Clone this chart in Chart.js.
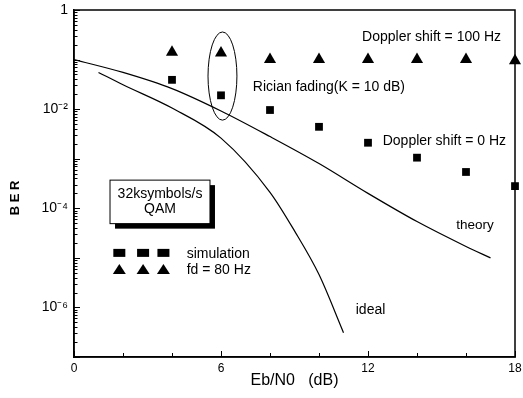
<!DOCTYPE html>
<html>
<head>
<meta charset="utf-8">
<script src="https://cdn.jsdelivr.net/npm/chart.js@4"></script>
<style>
  html, body { margin: 0; padding: 0; background: #fff; }
  #wrap { width: 523px; height: 398px; }
</style>
</head>
<body>
<div id="wrap"><canvas id="ber"></canvas></div>
<script>
// simulation points (Eb/N0 in dB, BER)
let simX = [4, 6, 8, 10, 12, 14, 16, 18];
let doppler100 = [0.14, 0.135, 0.1, 0.1, 0.1, 0.1, 0.1, 0.095];
let doppler0 = [0.039, 0.019, 0.0096, 0.0044, 0.0021, 0.00105, 0.00054, 0.00028];

// theory curve
let theoryX = [0, 2, 4, 6, 8, 10, 12, 14, 16, 17];
let theoryY = [0.10, 0.055, 0.026, 0.0092, 0.0028, 8e-4, 2.0e-4, 5.4e-5, 1.7e-5, 1.0e-5];

// ideal curve
let idealX = [1, 2, 4, 6, 8, 9, 10, 11];
let idealY = [0.055, 0.031, 0.0105, 0.0026, 2.1e-4, 3.5e-5, 4.6e-6, 3.1e-7];

// tick labels
let xTickLabels = [0, 6, 12, 18];
let yLabelValues = [1, 1e-2, 1e-4, 1e-6];
let yLabelTexts = ['1', '10\u207B\u00B2', '10\u207B\u2074', '10\u207B\u2076'];

function points(xs, ys) {
    return xs.map((x, i) => ({ x: x, y: ys[i] }));
}

Chart.defaults.font.family = '"Liberation Sans", Arial, sans-serif';
Chart.defaults.color = '#000';

const annotations = {
    id: 'annotations',
    afterDatasetsDraw(chart) {
        const ctx = chart.ctx;
        const x = chart.scales.x;
        const y = chart.scales.y;
        const area = chart.chartArea;
        const px = v => x.getPixelForValue(v);
        const py = v => y.getPixelForValue(v);
        ctx.save();

        // frame on top and right
        ctx.strokeStyle = '#000';
        ctx.lineWidth = 1.5;
        ctx.strokeRect(area.left, area.top, area.right - area.left, area.bottom - area.top);

        // inward tick marks
        ctx.lineWidth = 1;
        ctx.beginPath();
        y.ticks.forEach(t => {
            const yy = Math.round(py(t.value)) + 0.5;
            const major = Math.abs(Math.log10(t.value) - Math.round(Math.log10(t.value))) < 1e-6;
            ctx.moveTo(area.left, yy);
            ctx.lineTo(area.left + (major ? 6 : 3.5), yy);
        });
        x.ticks.forEach(t => {
            const xx = Math.round(px(t.value)) + 0.5;
            ctx.moveTo(xx, area.bottom);
            ctx.lineTo(xx, area.bottom - (xTickLabels.includes(t.value) ? 6 : 4));
        });
        ctx.stroke();

        // labels
        ctx.fillStyle = '#000';
        ctx.textBaseline = 'middle';
        ctx.textAlign = 'left';
        ctx.font = '14px "Liberation Sans", Arial, sans-serif';
        ctx.fillText('Doppler shift = 100 Hz', px(11.76), py(0.28));
        ctx.fillText('Rician fading(K = 10 dB)', px(7.3), py(0.028));
        ctx.fillText('Doppler shift = 0 Hz', px(12.6), py(0.0023));
        ctx.fillText('ideal', px(11.5), py(8.9e-7));
        ctx.font = '13.5px "Liberation Sans", Arial, sans-serif';
        ctx.fillText('theory', px(15.6), py(4.6e-5));

        // ellipse round the 6 dB points
        const ex0 = px(5.47), ex1 = px(6.65), ey0 = py(0.36), ey1 = py(0.006);
        ctx.lineWidth = 1;
        ctx.beginPath();
        ctx.ellipse((ex0 + ex1) / 2, (ey0 + ey1) / 2, (ex1 - ex0) / 2, (ey1 - ey0) / 2, 0, 0, 2 * Math.PI);
        ctx.stroke();

        // boxed note with shadow
        ctx.font = '14px "Liberation Sans", Arial, sans-serif';
        const bx0 = px(1.47), bx1 = px(5.55), by0 = py(3.7e-4), by1 = py(4.9e-5);
        ctx.fillRect(bx0 + 5, by0 + 5, bx1 - bx0, by1 - by0);
        ctx.fillStyle = '#fff';
        ctx.fillRect(bx0, by0, bx1 - bx0, by1 - by0);
        ctx.strokeRect(bx0, by0, bx1 - bx0, by1 - by0);
        ctx.fillStyle = '#000';
        ctx.textAlign = 'center';
        ctx.fillText('32ksymbols/s', (bx0 + bx1) / 2, by0 + 14);
        ctx.fillText('QAM', (bx0 + bx1) / 2, by0 + 29);

        // legend
        const sy = py(1.26e-5), ty = py(5.7e-6);
        [1.85, 2.82, 3.65].forEach(v => {
            const cx = px(v);
            ctx.fillRect(cx - 6, sy - 4, 12, 8);
            ctx.beginPath();
            ctx.moveTo(cx, ty - 6);
            ctx.lineTo(cx + 6.5, ty + 4);
            ctx.lineTo(cx - 6.5, ty + 4);
            ctx.closePath();
            ctx.fill();
        });
        ctx.textAlign = 'left';
        ctx.fillText('simulation', px(4.6), sy + 1);
        ctx.fillText('fd = 80 Hz', px(4.6), ty);

        ctx.restore();
    }
};

new Chart(document.getElementById('ber'), {
    type: 'line',
    data: {
        datasets: [
            {
                label: 'theory',
                data: points(theoryX, theoryY),
                borderColor: '#000',
                borderWidth: 1.2,
                pointRadius: 0,
                cubicInterpolationMode: 'monotone'
            },
            {
                label: 'ideal',
                data: points(idealX, idealY),
                borderColor: '#000',
                borderWidth: 1.2,
                pointRadius: 0,
                cubicInterpolationMode: 'monotone'
            },
            {
                label: 'Doppler shift = 100 Hz',
                data: points(simX, doppler100),
                showLine: false,
                pointStyle: 'triangle',
                pointRadius: 7,
                backgroundColor: '#000',
                borderColor: '#000',
                borderWidth: 0,
                clip: false
            },
            {
                label: 'Doppler shift = 0 Hz',
                data: points(simX, doppler0),
                showLine: false,
                pointStyle: 'rect',
                pointRadius: 5.5,
                backgroundColor: '#000',
                borderColor: '#000',
                borderWidth: 0,
                clip: false
            }
        ]
    },
    options: {
        responsive: true,
        maintainAspectRatio: false,
        animation: false,
        devicePixelRatio: 1,
        layout: { padding: { top: 10, right: 8, bottom: 8, left: 0 } },
        plugins: {
            legend: { display: false },
            tooltip: { enabled: false }
        },
        scales: {
            x: {
                type: 'linear',
                min: 0,
                max: 18,
                afterBuildTicks(scale) {
                    let ticks = [];
                    for (let v = 0; v <= 18; v += 2) ticks.push({ value: v });
                    scale.ticks = ticks;
                },
                afterFit(scale) {
                    scale.height = 33;
                    scale.paddingLeft = 0;
                    scale.paddingRight = 0;
                },
                ticks: {
                    autoSkip: false,
                    maxRotation: 0,
                    padding: 4,
                    font: { size: 12 },
                    callback: v => xTickLabels.includes(v) ? String(v) : ''
                },
                grid: { display: false, drawTicks: false },
                border: { color: '#000', width: 1.5 },
                title: {
                    display: true,
                    text: 'Eb/N0   (dB)',
                    font: { size: 16 },
                    padding: { top: 0, bottom: 0 }
                }
            },
            y: {
                type: 'logarithmic',
                min: 1e-7,
                max: 1,
                afterBuildTicks(scale) {
                    let ticks = [];
                    for (let e = -7; e < 0; e++) {
                        for (let m = 1; m < 10; m++) ticks.push({ value: m * Math.pow(10, e) });
                    }
                    ticks.push({ value: 1 });
                    scale.ticks = ticks;
                },
                afterFit(scale) {
                    scale.width = 74;
                    scale.paddingTop = 0;
                    scale.paddingBottom = 0;
                },
                ticks: {
                    autoSkip: false,
                    padding: 6,
                    font: { size: 14 },
                    callback: v => {
                        let i = yLabelValues.findIndex(t => Math.abs(Math.log10(v) - Math.log10(t)) < 1e-6);
                        return i >= 0 ? yLabelTexts[i] : '';
                    }
                },
                grid: { display: false, drawTicks: false },
                border: { color: '#000', width: 1.5 },
                title: {
                    display: true,
                    text: 'B E R        ',
                    font: { size: 13, weight: 'bold' },
                    padding: { top: 8, bottom: 0 }
                }
            }
        }
    },
    plugins: [annotations]
});
</script>
</body>
</html>
